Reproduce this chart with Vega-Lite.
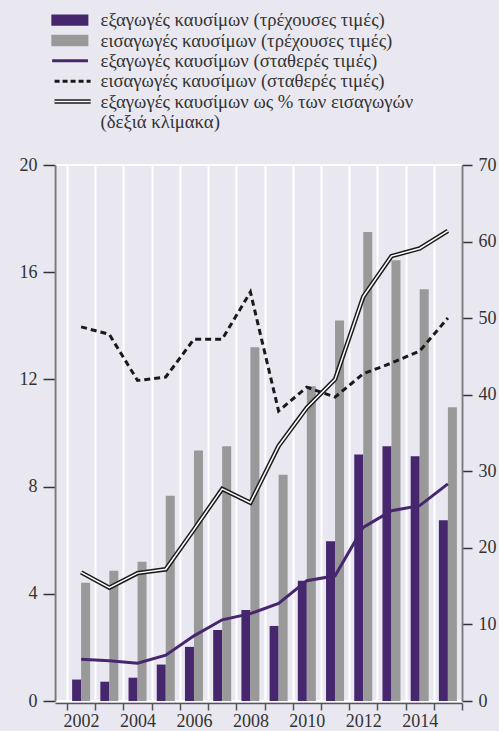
{
  "$schema": "https://vega.github.io/schema/vega-lite/v6.json",
  "background": "#e9e8f0",
  "padding": {"left": 18, "top": 10, "right": 2, "bottom": 0},
  "config": {
    "font": "'Liberation Serif', 'Times New Roman', 'DejaVu Serif', serif",
    "view": {"stroke": null},
    "concat": {"spacing": 23},
    "axis": {"labelFont": "'Liberation Serif', 'Times New Roman', 'DejaVu Serif', serif", "labelFontSize": 18, "labelColor": "#333333", "tickColor": "#333333", "tickWidth": 1.5, "domainColor": "#7a7a7a", "domainWidth": 2, "grid": false, "title": null},
    "axisLeft": {"tickSize": 12, "labelPadding": 6},
    "axisRight": {"tickSize": 10, "labelPadding": 6},
    "axisBottom": {"tickSize": 7, "labelPadding": 2, "domainColor": "#555555", "tickColor": "#555555", "domainWidth": 1.5}
  },
  "datasets": {
    "main": [
      {"year": 2002, "exp_cur": 0.80, "imp_cur": 4.41, "exp_const": 1.56, "imp_const": 13.96, "ratio": 16.8},
      {"year": 2003, "exp_cur": 0.72, "imp_cur": 4.86, "exp_const": 1.50, "imp_const": 13.68, "ratio": 14.8},
      {"year": 2004, "exp_cur": 0.87, "imp_cur": 5.20, "exp_const": 1.41, "imp_const": 11.96, "ratio": 16.7},
      {"year": 2005, "exp_cur": 1.36, "imp_cur": 7.66, "exp_const": 1.71, "imp_const": 12.09, "ratio": 17.2},
      {"year": 2006, "exp_cur": 2.02, "imp_cur": 9.35, "exp_const": 2.43, "imp_const": 13.50, "ratio": 22.4},
      {"year": 2007, "exp_cur": 2.65, "imp_cur": 9.51, "exp_const": 3.03, "imp_const": 13.50, "ratio": 27.7},
      {"year": 2008, "exp_cur": 3.40, "imp_cur": 13.20, "exp_const": 3.26, "imp_const": 15.26, "ratio": 25.9},
      {"year": 2009, "exp_cur": 2.80, "imp_cur": 8.44, "exp_const": 3.64, "imp_const": 10.82, "ratio": 33.3},
      {"year": 2010, "exp_cur": 4.49, "imp_cur": 11.74, "exp_const": 4.49, "imp_const": 11.71, "ratio": 38.3},
      {"year": 2011, "exp_cur": 5.96, "imp_cur": 14.20, "exp_const": 4.67, "imp_const": 11.34, "ratio": 42.0},
      {"year": 2012, "exp_cur": 9.20, "imp_cur": 17.50, "exp_const": 6.48, "imp_const": 12.21, "ratio": 52.8},
      {"year": 2013, "exp_cur": 9.51, "imp_cur": 16.45, "exp_const": 7.10, "imp_const": 12.61, "ratio": 58.1},
      {"year": 2014, "exp_cur": 9.13, "imp_cur": 15.36, "exp_const": 7.29, "imp_const": 13.06, "ratio": 59.1},
      {"year": 2015, "exp_cur": 6.74, "imp_cur": 10.96, "exp_const": 8.10, "imp_const": 14.29, "ratio": 61.4}
    ],
    "legend": [
      {"row": 1, "kind": "exp", "label": "εξαγωγές καυσίμων (τρέχουσες τιμές)"},
      {"row": 2, "kind": "imp", "label": "εισαγωγές καυσίμων (τρέχουσες τιμές)"},
      {"row": 3, "kind": "expc", "label": "εξαγωγές καυσίμων (σταθερές τιμές)"},
      {"row": 4, "kind": "impc", "label": "εισαγωγές καυσίμων (σταθερές τιμές)"},
      {"row": 5, "kind": "ratio", "label": "εξαγωγές καυσίμων ως % των εισαγωγών"},
      {"row": 6, "kind": "none", "label": "(δεξιά κλίμακα)"}
    ]
  },
  "resolve": {"scale": {"x": "independent", "y": "independent", "color": "independent"}},
  "vconcat": [
    {
      "width": 407,
      "height": 122,
      "data": {"name": "legend"},
      "view": {"stroke": null},
      "encoding": {"y": {"field": "row", "type": "ordinal", "scale": {"paddingInner": 0, "paddingOuter": 0}, "axis": null}},
      "layer": [
        {
          "transform": [{"filter": "datum.kind == 'exp'"}],
          "mark": {"type": "bar", "height": {"band": 0.56}, "color": "#46276e"},
          "encoding": {"x": {"datum": -0.09, "type": "quantitative", "scale": {"domain": [0, 10], "nice": false, "zero": false}, "axis": null}, "x2": {"datum": 0.82}}
        },
        {
          "transform": [{"filter": "datum.kind == 'imp'"}],
          "mark": {"type": "bar", "height": {"band": 0.56}, "color": "#999999"},
          "encoding": {"x": {"datum": -0.09, "type": "quantitative"}, "x2": {"datum": 0.82}}
        },
        {
          "transform": [{"filter": "datum.kind == 'expc'"}],
          "mark": {"type": "rule", "color": "#46276e", "strokeWidth": 3},
          "encoding": {"x": {"datum": -0.07, "type": "quantitative"}, "x2": {"datum": 0.81}}
        },
        {
          "transform": [{"filter": "datum.kind == 'impc'"}],
          "mark": {"type": "rule", "color": "#1a1a1a", "strokeWidth": 3, "strokeDash": [5, 3]},
          "encoding": {"x": {"datum": -0.01, "type": "quantitative"}, "x2": {"datum": 0.875}}
        },
        {
          "transform": [{"filter": "datum.kind == 'ratio'"}],
          "mark": {"type": "rule", "color": "#1a1a1a", "strokeWidth": 4.5},
          "encoding": {"x": {"datum": -0.01, "type": "quantitative"}, "x2": {"datum": 0.875}}
        },
        {
          "transform": [{"filter": "datum.kind == 'ratio'"}],
          "mark": {"type": "rule", "color": "#ffffff", "strokeWidth": 1.5},
          "encoding": {"x": {"datum": -0.01, "type": "quantitative"}, "x2": {"datum": 0.875}}
        },
        {
          "mark": {"type": "text", "align": "left", "baseline": "middle", "fontSize": 18.7, "color": "#333333"},
          "encoding": {"x": {"datum": 1.12, "type": "quantitative"}, "text": {"field": "label"}}
        }
      ]
    },
    {
      "width": 407,
      "height": 536,
      "data": {"name": "main"},
      "view": {"stroke": "#ffffff", "strokeWidth": 2},
      "encoding": {
        "x": {
          "field": "year", "type": "ordinal",
          "scale": {"type": "band", "paddingInner": 0, "paddingOuter": 0.2128, "align": 1},
          "axis": {"orient": "bottom", "title": null, "tickBand": "extent", "grid": true, "gridColor": "#ffffff", "gridWidth": 2, "labelAngle": 0, "offset": 2, "labelExpr": "datum.value % 2 == 0 ? datum.label : ''"}
        }
      },
      "layer": [
        {
          "layer": [
            {
              "transform": [{"fold": ["exp_cur", "imp_cur"], "as": ["series", "value"]}],
              "mark": {"type": "bar"},
              "encoding": {
                "xOffset": {"field": "series", "type": "nominal", "scale": {"domain": ["exp_cur", "imp_cur"], "paddingInner": 0, "paddingOuter": 0.567}},
                "y": {"field": "value", "type": "quantitative", "scale": {"domain": [0, 20], "nice": false}, "title": null, "axis": {"orient": "left", "values": [0, 4, 8, 12, 16, 20], "title": null}},
                "color": {"field": "series", "type": "nominal", "scale": {"domain": ["exp_cur", "imp_cur"], "range": ["#46276e", "#999999"]}, "legend": null}
              }
            },
            {
              "mark": {"type": "line", "color": "#46276e", "strokeWidth": 3},
              "encoding": {
                "y": {"field": "exp_const", "type": "quantitative", "scale": {"domain": [0, 20], "nice": false}, "title": null, "axis": {"orient": "left", "values": [0, 4, 8, 12, 16, 20], "title": null}}
              }
            },
            {
              "mark": {"type": "line", "color": "#1a1a1a", "strokeWidth": 3, "strokeDash": [6, 4]},
              "encoding": {
                "y": {"field": "imp_const", "type": "quantitative", "scale": {"domain": [0, 20], "nice": false}, "title": null, "axis": {"orient": "left", "values": [0, 4, 8, 12, 16, 20], "title": null}}
              }
            }
          ]
        },
        {
          "layer": [
            {
              "mark": {"type": "line", "color": "#1a1a1a", "strokeWidth": 4.5, "strokeJoin": "miter"},
              "encoding": {
                "y": {"field": "ratio", "type": "quantitative", "scale": {"domain": [0, 70], "nice": false}, "title": null, "axis": {"orient": "right", "values": [0, 10, 20, 30, 40, 50, 60, 70], "title": null}}
              }
            },
            {
              "mark": {"type": "line", "color": "#ffffff", "strokeWidth": 1.5, "strokeJoin": "miter"},
              "encoding": {
                "y": {"field": "ratio", "type": "quantitative", "scale": {"domain": [0, 70], "nice": false}, "title": null, "axis": {"orient": "right", "values": [0, 10, 20, 30, 40, 50, 60, 70], "title": null}}
              }
            }
          ]
        }
      ],
      "resolve": {"scale": {"y": "independent"}}
    }
  ]
}
